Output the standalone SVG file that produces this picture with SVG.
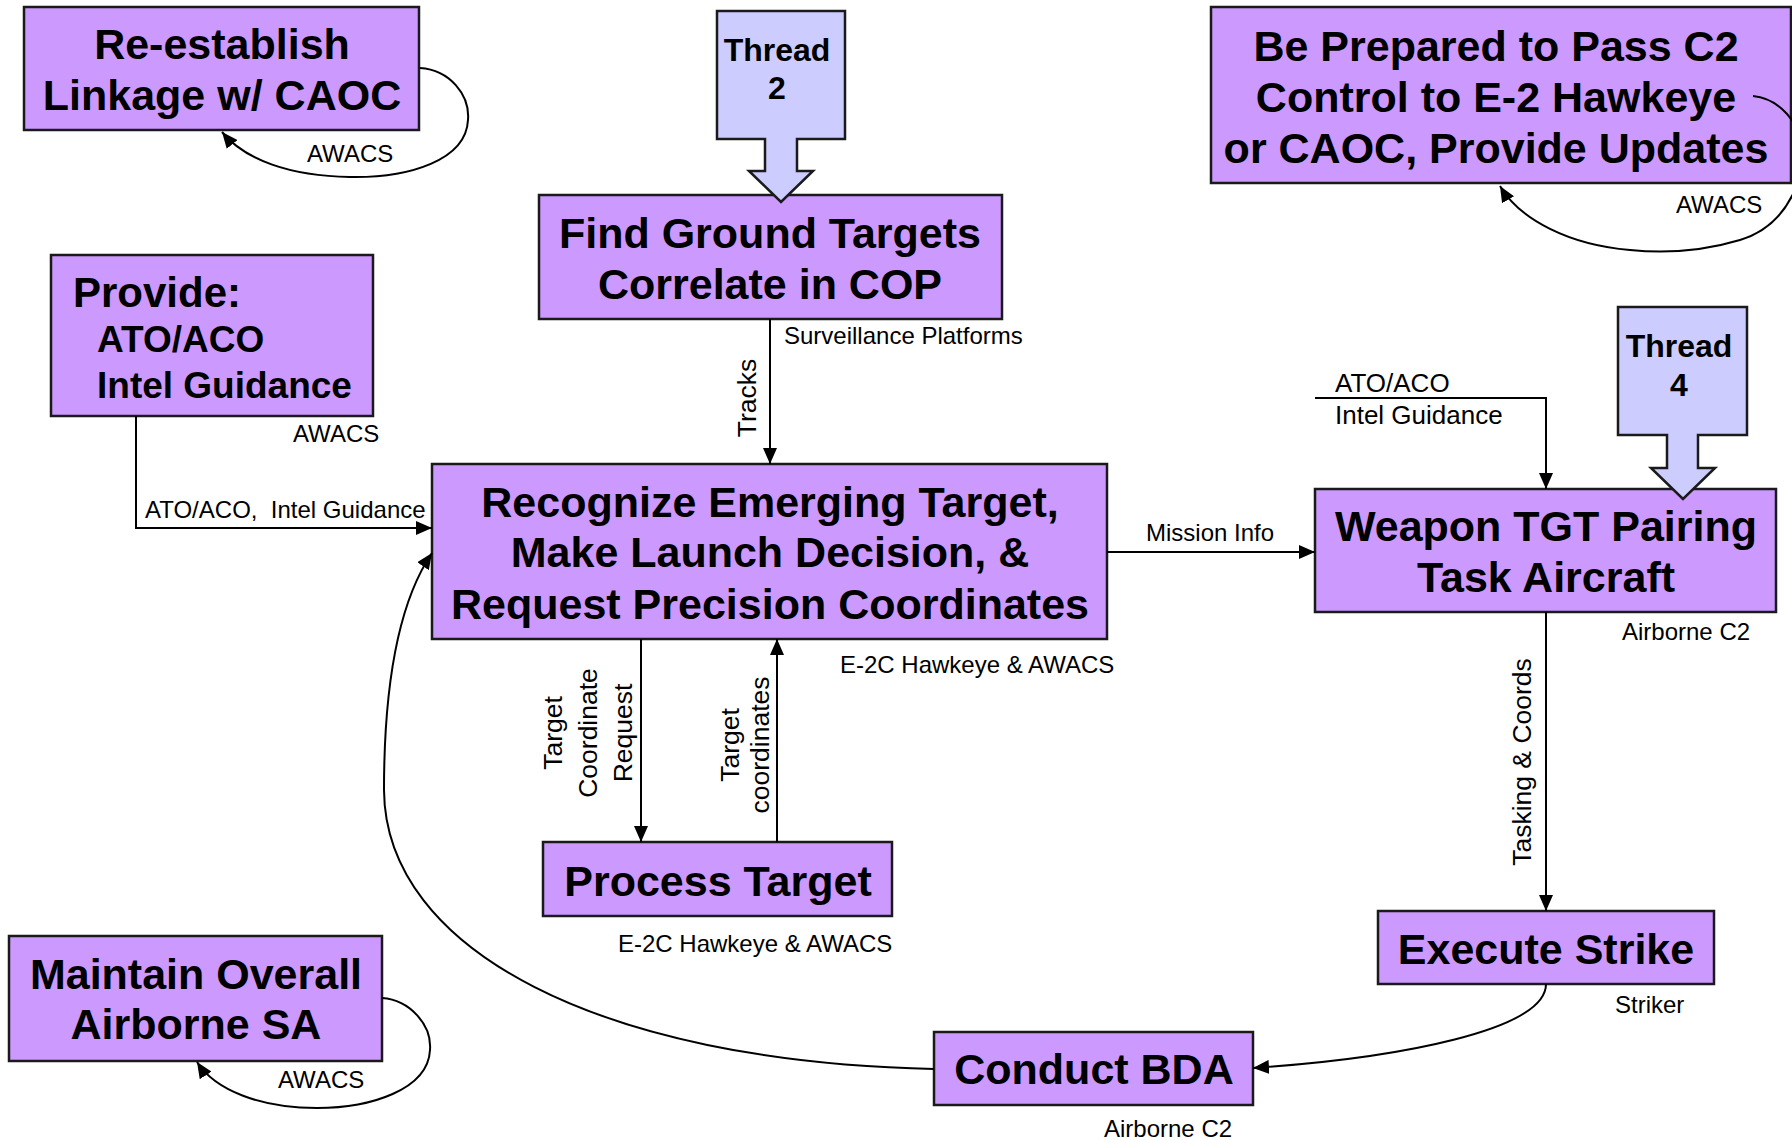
<svg xmlns="http://www.w3.org/2000/svg" width="1792" height="1140" viewBox="0 0 1792 1140">
<defs>
<style>
.box{fill:#cc99ff;stroke:#1a1a1a;stroke-width:2.5}
.thr{fill:#ccccff;stroke:#1a1a1a;stroke-width:2.5}
text{font-family:'Liberation Sans',Arial,sans-serif;fill:#000}
.t{font-weight:bold;font-size:43px;text-anchor:middle}
.th{font-weight:bold;font-size:32px;text-anchor:middle}
.s{font-size:24px}
.m{font-size:26px}
.r{font-size:26.5px;text-anchor:middle}
.c{fill:none;stroke:#000;stroke-width:2}
</style>
<marker id="ah" markerUnits="userSpaceOnUse" markerWidth="16" markerHeight="14" refX="16" refY="7" orient="auto"><path d="M0,0 L16,7 L0,14 Z" fill="#000"/></marker>
</defs>
<rect width="1792" height="1140" fill="#fff"/>

<g id="reestablish">
<rect class="box" x="24" y="7" width="395" height="123"/>
<text class="t" x="222" y="59">Re-establish</text>
<text class="t" x="222" y="110">Linkage w/ CAOC</text>
</g>
<g id="prepare">
<rect class="box" x="1211" y="7" width="580" height="176"/>
<text class="t" x="1496" y="61">Be Prepared to Pass C2</text>
<text class="t" x="1496" y="112">Control to E-2 Hawkeye</text>
<text class="t" x="1496" y="163">or CAOC, Provide Updates</text>
</g>
<g id="find">
<rect class="box" x="539" y="195" width="463" height="124"/>
<text class="t" x="770" y="248">Find Ground Targets</text>
<text class="t" x="770" y="299">Correlate in COP</text>
</g>
<g id="provide">
<rect class="box" x="51" y="255" width="322" height="161"/>
<text style="font-weight:bold;font-size:42px" x="73" y="307">Provide:</text>
<text style="font-weight:bold;font-size:37px" x="97" y="352">ATO/ACO</text>
<text style="font-weight:bold;font-size:37px" x="97" y="398">Intel Guidance</text>
</g>
<g id="recognize">
<rect class="box" x="432" y="464" width="675" height="175"/>
<text class="t" x="770" y="517">Recognize Emerging Target,</text>
<text class="t" x="770" y="567">Make Launch Decision, &amp;</text>
<text class="t" x="770" y="619">Request Precision Coordinates</text>
</g>
<g id="weapon">
<rect class="box" x="1315" y="489" width="461" height="123"/>
<text class="t" x="1546" y="541">Weapon TGT Pairing</text>
<text class="t" x="1546" y="592">Task Aircraft</text>
</g>
<g id="process">
<rect class="box" x="543" y="842" width="349" height="74"/>
<text class="t" x="718" y="896">Process Target</text>
</g>
<g id="execute">
<rect class="box" x="1378" y="911" width="336" height="73"/>
<text class="t" x="1546" y="964">Execute Strike</text>
</g>
<g id="bda">
<rect class="box" x="934" y="1032" width="319" height="73"/>
<text class="t" x="1094" y="1084">Conduct BDA</text>
</g>
<g id="maintain">
<rect class="box" x="9" y="936" width="373" height="125"/>
<text class="t" x="196" y="989">Maintain Overall</text>
<text class="t" x="196" y="1039">Airborne SA</text>
</g>

<g id="thread2">
<path class="thr" d="M717,11 H845 V139 H797 V171 H813 L781,202 L749,171 H765 V139 H717 Z"/>
<text class="th" x="777" y="61">Thread</text>
<text class="th" x="777" y="99">2</text>
</g>
<g id="thread4">
<path class="thr" d="M1618,307 H1747 V435 H1698 V468 H1715 L1683,499 L1651,468 H1667 V435 H1618 Z"/>
<text class="th" x="1679" y="357">Thread</text>
<text class="th" x="1679" y="396">4</text>
</g>

<g id="connectors">
<path class="c" marker-end="url(#ah)" d="M420,68 C450,70 470,95 468,120 C466,160 410,178 350,177 C290,176 245,160 222,132"/>
<path class="c" marker-end="url(#ah)" d="M1753,96 C1775,98 1792,115 1800,135 C1810,170 1790,225 1740,240 C1700,252 1660,253 1630,250 C1570,245 1520,220 1500,186"/>
<path class="c" marker-end="url(#ah)" d="M382,998 C410,1000 432,1025 430,1050 C428,1090 370,1108 317,1108 C260,1108 215,1090 197,1062"/>
<path class="c" marker-end="url(#ah)" d="M136,416 V528 H432"/>
<path class="c" marker-end="url(#ah)" d="M770,319 V464"/>
<path class="c" marker-end="url(#ah)" d="M1107,552 H1315"/>
<path class="c" marker-end="url(#ah)" d="M641,639 V842"/>
<path class="c" marker-end="url(#ah)" d="M777,842 V639"/>
<path class="c" marker-end="url(#ah)" d="M1315,398 H1546 V489"/>
<path class="c" marker-end="url(#ah)" d="M1546,612 V911"/>
<path class="c" marker-end="url(#ah)" d="M1546,984 C1546,1030 1400,1058 1253,1068"/>
<path class="c" marker-end="url(#ah)" d="M934,1069 C600,1062 385,950 384,790 C384,680 400,600 432,553"/>
<text class="s" x="307" y="162">AWACS</text>
<text class="s" x="1676" y="213">AWACS</text>
<text class="s" x="293" y="442">AWACS</text>
<text class="s" x="278" y="1088">AWACS</text>
<text class="s" x="145" y="518" xml:space="preserve">ATO/ACO,  Intel Guidance</text>
<text class="s" x="784" y="344">Surveillance Platforms</text>
<text class="s" x="840" y="673">E-2C Hawkeye &amp; AWACS</text>
<text class="s" x="618" y="952">E-2C Hawkeye &amp; AWACS</text>
<text class="s" x="1146" y="541">Mission Info</text>
<text class="s m" x="1335" y="392">ATO/ACO</text>
<text class="s m" x="1335" y="424">Intel Guidance</text>
<text class="s" x="1622" y="640">Airborne C2</text>
<text class="s" x="1615" y="1013">Striker</text>
<text class="s" x="1104" y="1137">Airborne C2</text>
<text class="r" transform="translate(756,398) rotate(-90)">Tracks</text>
<text class="r" transform="translate(1531,762) rotate(-90)">Tasking &amp; Coords</text>
<text class="r" transform="translate(562,733) rotate(-90)">Target</text>
<text class="r" transform="translate(597,733) rotate(-90)">Coordinate</text>
<text class="r" transform="translate(632,733) rotate(-90)">Request</text>
<text class="r" transform="translate(739,745) rotate(-90)">Target</text>
<text class="r" transform="translate(769,745) rotate(-90)">coordinates</text>
</g>
</svg>
